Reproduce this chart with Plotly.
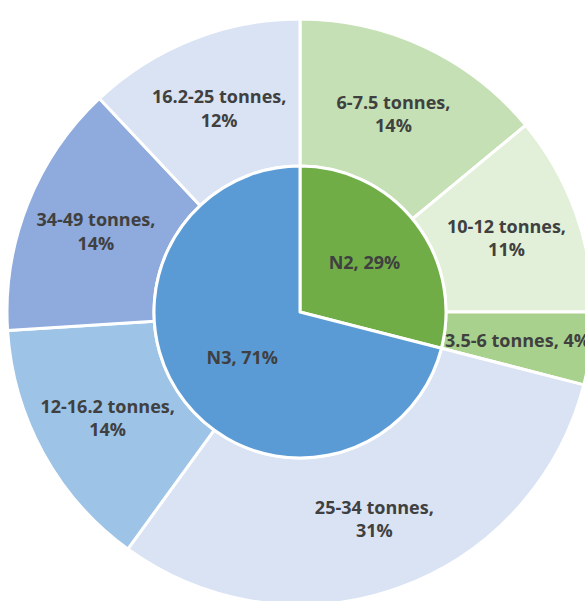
import math
import plotly.graph_objects as go

# Vehicle groups (inner ring)
groups = ["N2", "N3"]
group_share = [29, 71]
group_colors = ["#70AD47", "#5B9BD5"]

# Weight classes within each group (outer ring), in the same clockwise order
classes = ["6-7.5 tonnes", "10-12 tonnes", "3.5-6 tonnes",
           "25-34 tonnes", "12-16.2 tonnes", "34-49 tonnes", "16.2-25 tonnes"]
class_share = [14, 11, 4, 31, 14, 14, 12]
class_colors = ["#C5E0B4", "#E2F0D9", "#A9D18E",
                "#DAE3F3", "#9DC3E6", "#8FAADC", "#DAE3F3"]

# The narrow slice gets a one-line label placed as an annotation
NARROW = 2
class_templates = ["%{label},<br>%{value}%"] * len(classes)
class_templates[NARROW] = ""

W, H = 600, 612
CX, CY = 300, 312          # pie centre in pixels
R_OUT, R_IN = 293, 146     # outer / inner radius in pixels


def domain(r):
    return dict(x=[(CX - r) / W, (CX + r) / W],
                y=[1 - (CY + r) / H, 1 - (CY - r) / H])


text_font = dict(family="Open Sans", size=18, color="#404040", weight="bold")

fig = go.Figure()
fig.add_trace(go.Pie(
    labels=classes, values=class_share, sort=False, direction="clockwise",
    rotation=0, hole=R_IN / R_OUT, domain=domain(R_OUT),
    marker=dict(colors=class_colors, line=dict(color="white", width=3)),
    texttemplate=class_templates, textposition="inside",
    insidetextorientation="horizontal", insidetextfont=text_font,
    hoverinfo="skip", showlegend=False,
))
fig.add_trace(go.Pie(
    labels=groups, values=group_share, sort=False, direction="clockwise",
    rotation=0, domain=domain(R_IN),
    marker=dict(colors=group_colors, line=dict(color="white", width=3)),
    texttemplate="%{label}, %{value}%", textposition="inside",
    insidetextorientation="horizontal", insidetextfont=text_font,
    hoverinfo="skip", showlegend=False,
))

# Label of the narrow slice at its mid angle, halfway across the ring
total = sum(class_share)
start = sum(class_share[:NARROW])
mid_angle = 2 * math.pi * (start + class_share[NARROW] / 2) / total
r_mid = (R_IN + R_OUT) / 2
ax = CX + r_mid * math.sin(mid_angle)
ay = CY - r_mid * math.cos(mid_angle)
fig.add_annotation(
    x=ax / W, y=1 - ay / H, xref="paper", yref="paper",
    text=f"{classes[NARROW]}, {class_share[NARROW]}%",
    showarrow=False, font=text_font, xanchor="center", yanchor="middle",
)

fig.update_layout(
    width=W, height=H, margin=dict(l=0, r=0, t=0, b=0),
    paper_bgcolor="white", plot_bgcolor="white",
    uniformtext=dict(minsize=18, mode="show"),
)

fig.write_html(
    "out.html",
    config={"displayModeBar": False},
    post_script="document.body.style.margin='0';"
                "document.body.style.overflow='hidden';"
                "document.documentElement.style.overflow='hidden';",
)
